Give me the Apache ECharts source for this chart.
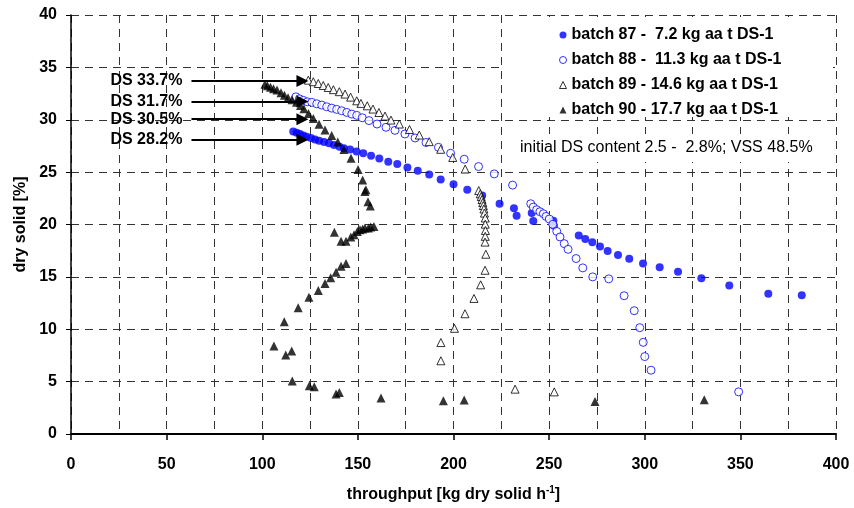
<!DOCTYPE html>
<html>
<head>
<meta charset="utf-8">
<script src="https://cdn.jsdelivr.net/npm/echarts@6/dist/echarts.min.js"></script>
<style>html,body{margin:0;padding:0;background:#fff}#c{width:854px;height:508px}</style>
</head>
<body>
<div id="c"></div>
<script>
// ---- data ----
const seriesNames = [
  'batch 87 -  7.2 kg aa t DS-1',
  'batch 88 -  11.3 kg aa t DS-1',
  'batch 89 - 14.6 kg aa t DS-1',
  'batch 90 - 17.7 kg aa t DS-1'
];
const batch87 = [
[116.2,28.88],[118.0,28.76],[119.7,28.64],[121.5,28.5],[123.2,28.38],[125.5,28.26],[127.6,28.12],[129.7,28.0],[132.3,27.88],[134.9,27.75],[137.5,27.59],[140.4,27.43],[142.7,27.28],[145.9,27.16],[149.3,26.96],[152.8,26.8],[156.9,26.57],[161.2,26.31],[165.9,26.0],[170.6,25.77],[175.9,25.43],[181.3,25.12],[187.3,24.77],[193.3,24.29],[200.0,23.85],[207.2,23.31],[215.0,22.76],[224.1,21.98],[231.6,21.55],[233.0,20.84],[240.9,21.09],[241.7,20.33],[252.2,20.36],[252.5,19.89],[265.5,18.96],[268.9,18.62],[272.6,18.3],[276.6,17.89],[280.6,17.48],[286.0,17.1],[291.9,16.72],[299.1,16.27],[307.8,15.92],[317.4,15.48],[329.6,14.87],[344.2,14.18],[364.6,13.39],[382.1,13.25]
];
const batch88 = [
[117.6,32.19],[119.4,32.0],[121.5,31.85],[123.6,31.71],[125.9,31.66],[128.5,31.52],[131.1,31.4],[133.7,31.24],[136.3,31.11],[138.9,30.99],[141.5,30.86],[144.2,30.7],[146.8,30.54],[149.4,30.42],[152.3,30.19],[155.8,29.92],[160.0,29.59],[164.7,29.28],[169.4,28.99],[174.6,28.64],[179.9,28.26],[185.6,27.83],[192.1,27.37],[198.5,26.8],[205.6,26.23],[213.1,25.53],[221.3,24.83],[230.9,23.76],[240.4,21.98],[241.7,21.66],[243.5,21.41],[245.2,21.22],[247.0,21.03],[248.4,20.77],[250.1,20.52],[251.9,20.01],[254.0,19.34],[255.7,18.81],[257.9,18.17],[259.9,17.63],[264.1,16.75],[267.6,15.86],[272.8,15.0],[281.2,14.81],[289.2,13.2],[294.5,11.77],[297.4,10.15],[299.2,8.75],[300.0,7.39],[303.3,6.09],[349.1,4.02]
];
const batch89 = [
[124.1,33.78],[126.7,33.63],[129.3,33.46],[131.9,33.27],[134.5,33.08],[137.2,32.87],[140.3,32.68],[143.3,32.45],[146.2,32.16],[149.4,31.81],[151.6,31.56],[154.9,31.33],[157.9,31.02],[161.0,30.69],[164.2,30.35],[167.3,29.97],[171.7,29.59],[177.0,29.07],[182.1,28.54],[187.3,27.91],[193.3,27.18],[199.6,26.4],[206.1,25.29],[213.2,23.24],[214.0,22.93],[214.5,22.67],[214.9,22.39],[215.3,22.1],[215.6,21.81],[215.9,21.48],[216.2,21.09],[216.6,20.62],[216.6,20.03],[216.7,19.43],[216.6,18.87],[216.5,18.32],[216.9,17.16],[216.5,15.63],[214.2,14.24],[210.7,12.94],[206.0,11.48],[200.5,10.09],[193.4,8.73],[193.4,6.99],[232.2,4.28],[252.7,4.02]
];
const batch90 = [
[101.4,33.4],[102.7,33.25],[104.3,33.11],[105.9,32.97],[107.7,32.83],[109.8,32.57],[111.6,32.35],[113.5,32.11],[115.6,31.92],[117.9,31.68],[120.0,31.35],[121.8,31.05],[124.2,30.59],[126.7,30.13],[129.7,29.56],[132.8,29.02],[136.3,28.5],[139.5,27.88],[142.7,27.15],[146.4,26.33],[150.1,25.26],[152.5,24.26],[153.7,23.15],[154.2,23.31],[155.3,22.17],[156.5,21.76],
[111.5,10.72],[118.8,12.05],[124.4,13.06],[129.3,13.7],[132.8,14.37],[135.8,14.91],[138.6,15.44],[141.2,16.01],[143.8,16.27],
[137.7,19.25],[141.2,18.39],[143.8,18.39],[146.3,18.81],[148.0,19.03],[149.7,19.34],[151.1,19.5],[152.5,19.57],[153.7,19.67],[155.5,19.67],[156.7,19.76],[158.4,19.82],
[106.1,8.4],[112.3,7.55],[115.4,7.93],[115.7,5.07],[124.6,4.6],[127.2,4.5],[138.6,3.81],[140.3,3.97],[162.1,3.43],[194.7,3.17],[205.6,3.24],[274.0,3.11],[331.1,3.26]
];
const arrowLabels = ['DS 33.7%','DS 31.7%','DS 30.5%','DS 28.2%'];
const arrowY = [33.7, 31.75, 30.05, 28.1];
const arrowX = [63, 121];
const noteText = 'initial DS content 2.5 -  2.8%; VSS 48.5%';
const xTitle = 'throughput [kg dry solid h{sup|-1}]';
const yTitle = 'dry solid [%]';

// ---- chart ----
const FONT = 'Liberation Sans, Arial, sans-serif';
const BLUE = '#0000ff';
const gridDash = {color:'#333', width:1, type:[8,6]};
const chart = echarts.init(document.getElementById('c'), null, {renderer:'canvas'});

const arrowData = arrowY.map((y,i)=>[
  {coord:[arrowX[0], y], label:{formatter: arrowLabels[i]}},
  {coord:[arrowX[1], y]}
]);

chart.setOption({
  animation:false,
  backgroundColor:'#fff',
  textStyle:{fontFamily:FONT},
  grid:{left:71, right:18, top:15, bottom:73, containLabel:false},
  xAxis:{
    type:'value', min:0, max:400, interval:50,
    name:xTitle, nameLocation:'middle', nameGap:51,
    nameTextStyle:{fontFamily:FONT, fontSize:16, fontWeight:'bold', color:'#000',
      rich:{sup:{fontFamily:FONT, fontSize:10, fontWeight:'bold', color:'#000', verticalAlign:'top', padding:[0,0,10,0]}}},
    axisLine:{show:true, onZero:false, lineStyle:{color:'#000', width:2}},
    axisTick:{show:true, inside:false, length:6, lineStyle:{color:'#000', width:1.5}},
    axisLabel:{fontFamily:FONT, fontSize:16, fontWeight:'bold', color:'#000', margin:23},
    splitLine:{show:true, lineStyle:gridDash},
    minorTick:{show:false, splitNumber:2},
    minorSplitLine:{show:true, lineStyle:gridDash}
  },
  yAxis:{
    type:'value', min:0, max:40, interval:5,
    name:yTitle, nameLocation:'middle', nameGap:40,
    nameTextStyle:{fontFamily:FONT, fontSize:16, fontWeight:'bold', color:'#000'},
    axisLine:{show:true, onZero:false, lineStyle:{color:'#000', width:1.5}},
    axisTick:{show:true, inside:false, length:5, lineStyle:{color:'#000', width:1}},
    axisLabel:{fontFamily:FONT, fontSize:16, fontWeight:'bold', color:'#000', margin:14},
    splitLine:{show:true, lineStyle:gridDash}
  },
  legend:{
    data:[
      {name:seriesNames[0]},
      {name:seriesNames[1], itemStyle:{borderWidth:1}},
      {name:seriesNames[2], itemStyle:{borderWidth:1}},
      {name:seriesNames[3]}
    ],
    orient:'vertical', left:554, top:22,
    itemWidth:7, itemHeight:7, itemGap:9,
    textStyle:{fontFamily:FONT, fontSize:16, fontWeight:'bold', color:'#000'}
  },
  graphic:[
    {type:'rect', z:1, silent:true, shape:{x:504, y:17, width:329, height:100}, style:{fill:'#fff'}},
    {type:'text', z:1, silent:true, left:514, top:134,
      style:{text:noteText, font:'16px '+FONT, fill:'#000', backgroundColor:'#fff', padding:[6,6]}}
  ],
  series:[
    {name:seriesNames[0], type:'scatter', data:batch87, symbol:'circle', symbolSize:8,
      itemStyle:{color:BLUE}},
    {name:seriesNames[1], type:'scatter', data:batch88, symbol:'circle', symbolSize:8,
      itemStyle:{color:'#fff', borderColor:BLUE, borderWidth:1}},
    {name:seriesNames[2], type:'scatter', data:batch89, symbol:'triangle', symbolSize:8,
      itemStyle:{color:'#fff', borderColor:'#000', borderWidth:1}},
    {name:seriesNames[3], type:'scatter', data:batch90, symbol:'triangle', symbolSize:9,
      itemStyle:{color:'#000'},
      markLine:{silent:true, symbol:['none','triangle'], symbolSize:12,
        lineStyle:{color:'#000', width:2, type:'solid'},
        itemStyle:{color:'#000'},
        label:{show:true, position:'start', distance:9, fontFamily:FONT, fontSize:16, fontWeight:'bold', color:'#000'},
        data:arrowData}}
  ]
});
</script>
</body>
</html>
